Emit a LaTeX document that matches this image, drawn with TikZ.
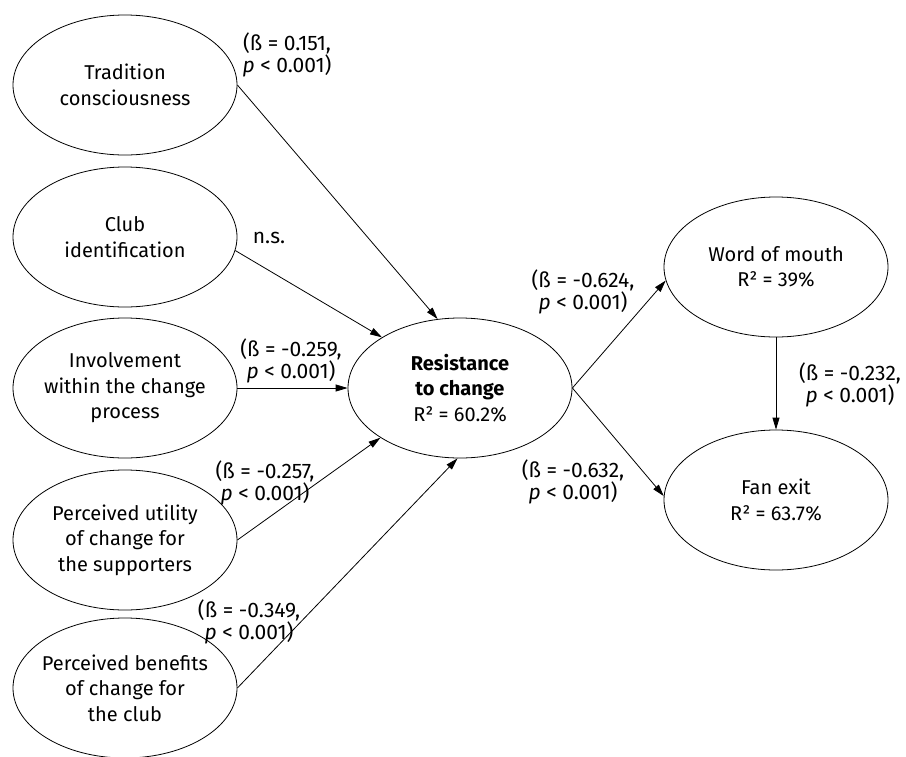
\documentclass[tikz,border=0pt]{standalone}
\usepackage{fontspec}
\setmainfont{Fira Sans}
\usetikzlibrary{shapes.geometric,arrows.meta}
\begin{document}
\begin{tikzpicture}[x=1pt,y=-1pt,
  bubble/.style={draw,ellipse,minimum width=224pt,minimum height=140pt,inner sep=0pt,line width=0.8pt},
  btext/.style={align=center,font=\fontsize{20}{25.5}\selectfont,inner sep=0pt},
  coef/.style={align=center,font=\fontsize{21}{20.5}\selectfont,inner sep=0pt},
  link/.style={line width=0.8pt,-{Triangle[length=12pt,width=7pt]}}]
\useasboundingbox (0,0) rectangle (906,756);
\node[bubble] (trad) at (125,85) {};
\node[btext] (tradT) at (trad) {Tradition\\consciousness};
\node[bubble] (club) at (125,237) {};
\node[btext] (clubT) at (club) {Club\\identification};
\node[bubble] (inv) at (125,388) {};
\node[btext] (invT) at (inv) {Involvement\\within the change\\process};
\node[bubble] (util) at (125,540) {};
\node[btext] (utilT) at (util) {Perceived utility\\of change for\\the supporters};
\node[bubble] (ben) at (125,688) {};
\node[btext] (benT) at (ben) {Perceived benefits\\of change for\\the club};
\node[bubble] (res) at (460,388) {};
\node[btext] (resT) at (res) {\textbf{Resistance}\\\textbf{to change}\\R² = 60.2\%};
\node[bubble] (word) at (776,267) {};
\node[btext] (wordT) at (word) {Word of mouth\\R² = 39\%};
\node[bubble] (fan) at (776,500) {};
\node[btext] (fanT) at (fan) {Fan exit\\R² = 63.7\%};

\draw[link] (trad.east) -- (res.108);
\draw[link] (club.-7) -- (res.147);
\draw[link] (inv.east) -- (res.west);
\draw[link] (util.east) -- (res.212);
\draw[link] (ben.east) -- (res.268);
\draw[link] (res.east) -- (word.187);
\draw[link] (res.east) -- (fan.178);
\draw[link] (word.south) -- (fan.north);

\node[coef] (c1) at (287,55) {(ß = 0.151,\\\textit{p} < 0.001)};
\node[coef] (c2) at (269,238) {n.s.};
\node[coef] (c3) at (291,361) {(ß = -0.259,\\\textit{p} < 0.001)};
\node[coef] (c4) at (265,483) {(ß = -0.257,\\\textit{p} < 0.001)};
\node[coef] (c5) at (249,622) {(ß = -0.349,\\\textit{p} < 0.001)};
\node[coef] (c6) at (583,292) {(ß = -0.624,\\\textit{p} < 0.001)};
\node[coef] (c7) at (573,482) {(ß = -0.632,\\\textit{p} < 0.001)};
\node[coef] (c8) at (850,385) {(ß = -0.232,\\\textit{p} < 0.001)};
\end{tikzpicture}
\end{document}
